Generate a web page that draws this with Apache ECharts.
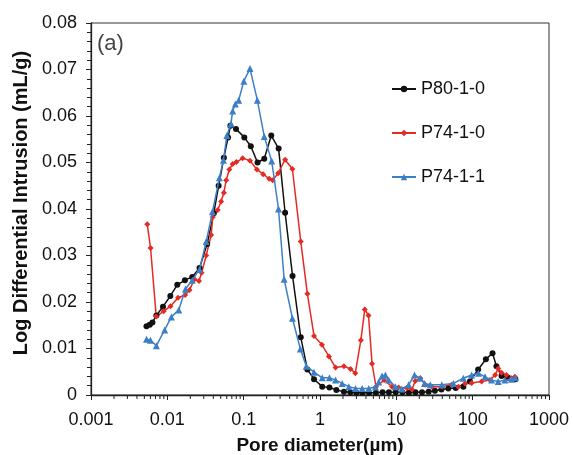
<!DOCTYPE html>
<html>
<head>
<meta charset="utf-8">
<script src="https://cdn.jsdelivr.net/npm/echarts@6/dist/echarts.min.js"></script>
<style>html,body{margin:0;padding:0;background:#fff}#c{width:573px;height:455px}</style>
</head>
<body>
<div id="c"></div>
<script>
const seriesNames = ['P80-1-0', 'P74-1-0', 'P74-1-1'];
const xTickLabels = ['0.001', '0.01', '0.1', '1', '10', '100', '1000'];
const yTickLabels = ['0', '0.01', '0.02', '0.03', '0.04', '0.05', '0.06', '0.07', '0.08'];

const blackX = [0.00533,0.00588,0.00638,0.00719,0.00877,0.01095,0.0135,0.0170,0.0212,0.0264,0.0333,0.0406,0.0470,0.0550,0.0625,0.0670,0.0794,0.102,0.124,0.152,0.186,0.230,0.287,0.349,0.437,0.560,0.683,0.835,1.07,1.33,1.64,2.06,2.5,3.0,3.6,4.4,5.4,6.6,8.0,9.8,12,14.6,17.8,21.7,26.5,32,39,48,60,75.5,92,118,149,182,205,239,292,363];
const blackY = [0.0148,0.0151,0.0156,0.0171,0.0190,0.0213,0.0237,0.0247,0.0254,0.0273,0.0325,0.0391,0.0450,0.0510,0.0554,0.0579,0.0572,0.0554,0.0535,0.0500,0.0508,0.0558,0.0530,0.0392,0.0256,0.0124,0.0055,0.0034,0.0018,0.0016,0.0011,0.0007,0.0006,0.0005,0.0005,0.0005,0.0005,0.0006,0.0006,0.0006,0.0006,0.0005,0.0006,0.0006,0.0007,0.0009,0.0012,0.0014,0.0015,0.0018,0.0029,0.0055,0.0077,0.0090,0.0062,0.0041,0.0037,0.0034];

const redX = [0.00546,0.00603,0.00715,0.00896,0.0110,0.0138,0.0171,0.0195,0.0227,0.0260,0.0281,0.0323,0.0375,0.0394,0.0457,0.0507,0.0550,0.0590,0.0650,0.0718,0.0802,0.0969,0.121,0.149,0.180,0.216,0.240,0.283,0.349,0.435,0.560,0.683,0.835,1.06,1.31,1.60,2.06,2.51,2.90,3.43,3.86,4.32,4.81,5.42,6.93,8.77,10.7,13.7,16.0,17.7,20.6,23.9,29.2,39.4,52.7,65.0,79.4,96.9,131,168,197,216,239,277,322,357];
const redY = [0.0367,0.0316,0.0169,0.0180,0.0191,0.0209,0.0215,0.0226,0.0249,0.0245,0.0263,0.0300,0.0344,0.0383,0.0398,0.0416,0.0435,0.0462,0.0485,0.0497,0.0501,0.0509,0.0504,0.0485,0.0475,0.0465,0.0462,0.0477,0.0506,0.0486,0.0330,0.0218,0.0127,0.0108,0.0083,0.0059,0.0062,0.0056,0.0047,0.0118,0.0184,0.0171,0.0067,0.0018,0.0032,0.0018,0.0016,0.0015,0.0012,0.0030,0.0036,0.0022,0.0018,0.0018,0.0022,0.0018,0.0025,0.0026,0.0029,0.0032,0.0043,0.0057,0.0048,0.0043,0.0036,0.0039];

const blueX = [0.00533,0.00601,0.00719,0.00923,0.0113,0.0141,0.0173,0.0212,0.0264,0.0323,0.0390,0.0481,0.0543,0.0603,0.0680,0.0718,0.0778,0.0860,0.1005,0.121,0.151,0.186,0.233,0.286,0.339,0.435,0.553,0.661,0.835,1.07,1.33,1.60,1.95,2.39,2.92,3.57,4.35,5.32,5.87,6.49,7.19,7.94,9.71,11.8,14.5,17.3,20.6,23.4,27.8,39.4,56.0,75.5,96.9,119,145,177,216,264,322,363];
const blueY = [0.0120,0.0118,0.0106,0.0140,0.0168,0.0183,0.0228,0.0247,0.0270,0.0330,0.0394,0.0467,0.0505,0.0558,0.0583,0.0611,0.0626,0.0634,0.0675,0.0702,0.0634,0.0556,0.0503,0.0400,0.0249,0.0165,0.0099,0.0062,0.0049,0.0037,0.0037,0.0032,0.0025,0.0018,0.0014,0.0014,0.0014,0.0017,0.0028,0.0041,0.0043,0.0032,0.0018,0.0013,0.0022,0.0043,0.0036,0.0025,0.0022,0.0022,0.0025,0.0036,0.0043,0.0047,0.0039,0.0032,0.0029,0.0032,0.0034,0.0037];

const minorTickValues = [];
[0.001, 0.01, 0.1, 1, 10, 100].forEach(function (d) {
  for (let k = 2; k <= 9; k++) minorTickValues.push(+(d * k).toPrecision(6));
});

function zip(xs, ys) { return xs.map(function (x, i) { return [x, ys[i]]; }); }

const FONT = 'Arial, "Liberation Sans", sans-serif';
const colors = ['#111111', '#e42a22', '#3d7fc7'];
const symbols = ['circle', 'diamond', 'triangle'];
const symbolSizes = [6, 6, 7];
const datas = [zip(blackX, blackY), zip(redX, redY), zip(blueX, blueY)];

const chart = echarts.init(document.getElementById('c'), null, { renderer: 'canvas' });

const lineSeries = seriesNames.map(function (name, i) {
  return {
    name: name,
    type: 'line',
    data: datas[i],
    symbol: symbols[i],
    symbolSize: symbolSizes[i],
    showAllSymbol: true,
    color: colors[i],
    lineStyle: { color: colors[i], width: 1.5 },
    itemStyle: { color: colors[i] },
    z: 3 + (i === 2 ? 1 : 0),
    animation: false
  };
});

lineSeries.push({
  name: 'minorTicks',
  type: 'custom',
  data: minorTickValues.map(function (v) { return [v, 0]; }),
  clip: false,
  silent: true,
  animation: false,
  renderItem: function (params, api) {
    const p = api.coord([api.value(0), 0]);
    return {
      type: 'line',
      shape: { x1: p[0], y1: p[1], x2: p[0], y2: p[1] + 4 },
      style: { stroke: '#222', lineWidth: 1 }
    };
  }
});

chart.setOption({
  backgroundColor: '#fff',
  animation: false,
  grid: {
    left: 91, right: 24, top: 23, bottom: 60,
    containLabel: false, outerBoundsMode: 'none',
    show: true, borderColor: '#333', borderWidth: 1
  },
  legend: {
    data: seriesNames,
    orient: 'vertical',
    left: 386,
    top: 75,
    itemGap: 26,
    itemWidth: 24,
    itemHeight: 8,
    textStyle: { fontFamily: FONT, fontSize: 18, color: '#111' }
  },
  graphic: [{
    type: 'text',
    left: 97,
    top: 33,
    style: { text: '(a)', fontFamily: FONT, fontSize: 22, fill: '#444' }
  }],
  xAxis: {
    type: 'log',
    logBase: 10,
    min: 0.001,
    max: 1000,
    name: 'Pore diameter(µm)',
    nameLocation: 'middle',
    nameGap: 41,
    nameTextStyle: { fontFamily: FONT, fontSize: 19, fontWeight: 'bold', color: '#111' },
    axisLine: { lineStyle: { color: '#222', width: 1.3 } },
    axisTick: { show: true, length: 5, inside: false, lineStyle: { color: '#222' } },
    splitLine: { show: false },
    axisLabel: {
      fontFamily: FONT, fontSize: 18, color: '#111', margin: 16,
      formatter: function (v) {
        const idx = Math.round(Math.log10(v) + 3);
        return xTickLabels[idx] !== undefined ? xTickLabels[idx] : '';
      }
    }
  },
  yAxis: {
    type: 'value',
    min: 0,
    max: 0.08,
    interval: 0.01,
    name: 'Log Differential Intrusion (mL/g)',
    nameLocation: 'middle',
    nameGap: 58,
    nameTextStyle: { fontFamily: FONT, fontSize: 20, fontWeight: 'bold', color: '#111', padding: [0, 0, 0, 12] },
    axisLine: { show: true, lineStyle: { color: '#222', width: 1.3 } },
    axisTick: { show: true, length: 5, inside: false, lineStyle: { color: '#222' } },
    minorTick: { show: true, splitNumber: 5, length: 4, lineStyle: { color: '#222' } },
    splitLine: { show: false },
    axisLabel: {
      fontFamily: FONT, fontSize: 18, color: '#111', margin: 14,
      formatter: function (v) {
        const idx = Math.round(v / 0.01);
        return yTickLabels[idx] !== undefined ? yTickLabels[idx] : '';
      }
    }
  },
  series: lineSeries
});
</script>
</body>
</html>
